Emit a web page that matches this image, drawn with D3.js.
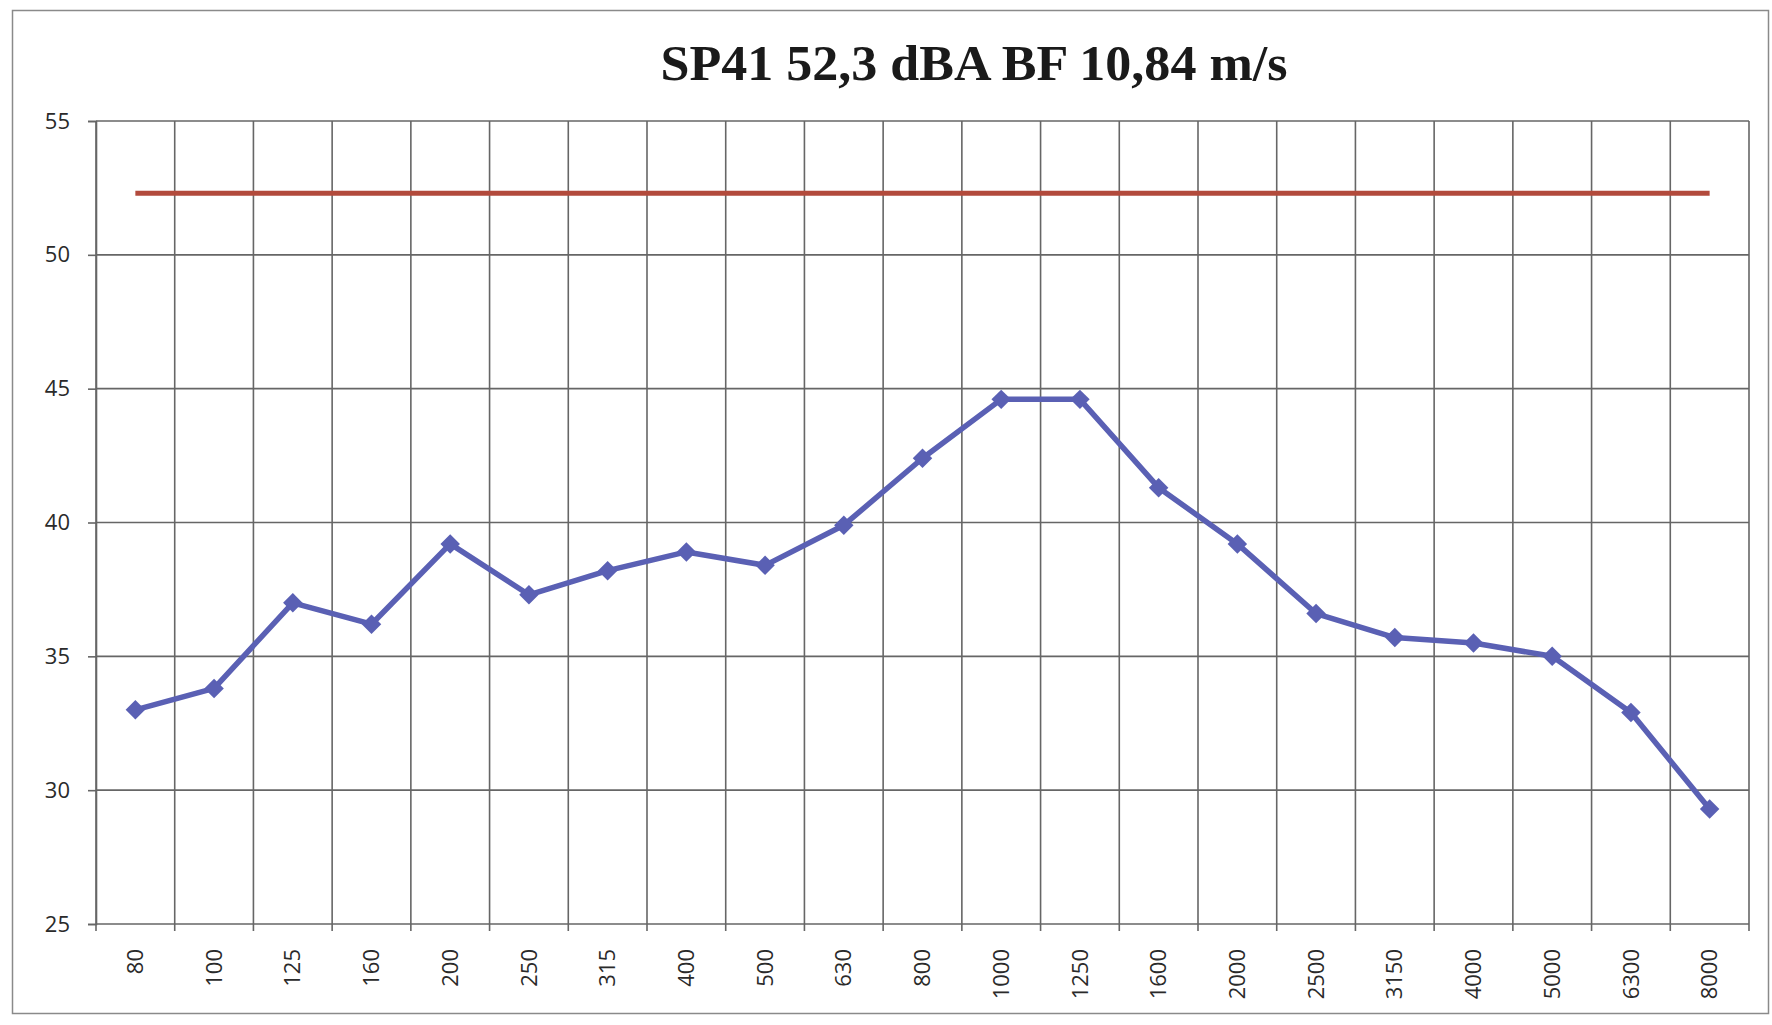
<!DOCTYPE html>
<html>
<head>
<meta charset="utf-8">
<script src="https://cdn.jsdelivr.net/npm/d3@7"></script>
<style>
  html, body { margin: 0; padding: 0; background: #ffffff; }
  svg { display: block; }
</style>
</head>
<body>
<svg id="chart" width="1772" height="1025"></svg>
<script>
const titleText = "SP41 52,3 dBA BF 10,84 m/s";
const categories = ["80","100","125","160","200","250","315","400","500","630","800","1000","1250","1600","2000","2500","3150","4000","5000","6300","8000"];
const levelValues = [33.0,33.8,37.0,36.2,39.2,37.3,38.2,38.9,38.4,39.9,42.4,44.6,44.6,41.3,39.2,36.6,35.7,35.5,35.0,32.9,29.3];
const limitValues = [52.3,52.3,52.3,52.3,52.3,52.3,52.3,52.3,52.3,52.3,52.3,52.3,52.3,52.3,52.3,52.3,52.3,52.3,52.3,52.3,52.3];
const yTicks = [25,30,35,40,45,50,55];

const svg = d3.select("#chart");
const W = 1772, H = 1025;
const margin = {left: 96, right: W - 1749, top: 121, bottom: H - 924};

svg.append("rect").attr("x",0).attr("y",0).attr("width",W).attr("height",H).attr("fill","#ffffff");
// outer chart-area border
svg.append("rect").attr("x",12.5).attr("y",10.5).attr("width",1756).attr("height",1003)
  .attr("fill","none").attr("stroke","#8a8a8a").attr("stroke-width",1.5);

const x = d3.scaleBand().domain(categories).range([margin.left, W - margin.right]).padding(0);
const y = d3.scaleLinear().domain([25,55]).range([H - margin.bottom, margin.top]);

const gridColor = "#666666";

// y axis
const yAxis = d3.axisLeft(y).tickValues(yTicks).tickSize(8).tickPadding(18).tickFormat(d3.format("d"));
const gy = svg.append("g").attr("transform", `translate(${margin.left},0)`).call(yAxis);
gy.select(".domain").attr("stroke", gridColor).attr("stroke-width",1.6);
gy.selectAll(".tick line").attr("stroke", gridColor).attr("stroke-width",1.6);
gy.selectAll(".tick text").attr("font-family","'Open Sans', 'Liberation Sans', sans-serif")
  .attr("font-size",22).attr("fill","#2a2a2a");

// horizontal gridlines
svg.append("g").selectAll("line").data(yTicks).join("line")
  .attr("x1", margin.left).attr("x2", W - margin.right)
  .attr("y1", d => y(d)).attr("y2", d => y(d))
  .attr("stroke", gridColor).attr("stroke-width",1.6);

// vertical gridlines at band boundaries
const bounds = categories.map(c => x(c)).concat([x(categories[categories.length-1]) + x.bandwidth()]);
svg.append("g").selectAll("line").data(bounds).join("line")
  .attr("x1", d => d).attr("x2", d => d)
  .attr("y1", margin.top).attr("y2", H - margin.bottom + 7)
  .attr("stroke", gridColor).attr("stroke-width",1.6);

// x axis labels (rotated)
const xAxis = d3.axisBottom(x).tickSize(0).tickPadding(0);
const gx = svg.append("g").attr("transform", `translate(0,${H - margin.bottom})`).call(xAxis);
gx.select(".domain").remove();
gx.selectAll(".tick text")
  .attr("font-family","'Open Sans', 'Liberation Sans', sans-serif")
  .attr("font-size",22).attr("fill","#2a2a2a")
  .attr("text-anchor","end")
  .attr("transform","rotate(-90)")
  .attr("x",-25).attr("y",0).attr("dy","0.35em");

// limit line (red)
const line = d3.line().x((d,i) => x(categories[i]) + x.bandwidth()/2).y(d => y(d));
svg.append("path").datum(limitValues).attr("d", line)
  .attr("fill","none").attr("stroke","#b24a3c").attr("stroke-width",5).attr("stroke-linecap","butt");

// measured level line (blue)
svg.append("path").datum(levelValues).attr("d", line)
  .attr("fill","none").attr("stroke","#5a60b4").attr("stroke-width",5.5).attr("stroke-linejoin","round");

svg.append("g").selectAll("path").data(levelValues).join("path")
  .attr("d", d3.symbol().type(d3.symbolSquare).size(190))
  .attr("transform",(d,i) => `translate(${x(categories[i]) + x.bandwidth()/2},${y(d)}) rotate(45)`)
  .attr("fill","#5a60b4");

// title
svg.append("text").attr("x", 974).attr("y", 80)
  .attr("text-anchor","middle")
  .attr("font-family","'Liberation Serif', 'DejaVu Serif', serif")
  .attr("font-weight","bold").attr("font-size",50).attr("fill","#1a1a1a")
  .attr("textLength", 627).attr("lengthAdjust","spacingAndGlyphs")
  .text(titleText);
</script>
</body>
</html>
